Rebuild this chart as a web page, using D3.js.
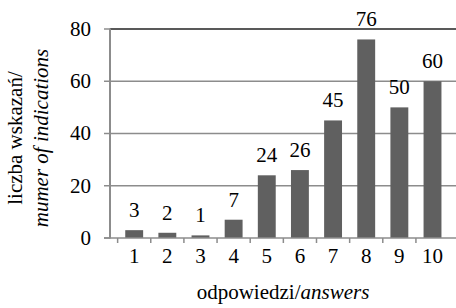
<!DOCTYPE html>
<html>
<head>
<meta charset="utf-8">
<script src="https://cdn.jsdelivr.net/npm/d3@7"></script>
<style>
  body { margin: 0; background: #fff; }
</style>
</head>
<body>
<svg id="chart" width="456" height="308" font-family="'Liberation Serif', 'DejaVu Serif', serif"></svg>
<script>
// answers 1..10 and how many times each was indicated
var answers = ["1", "2", "3", "4", "5", "6", "7", "8", "9", "10"];
var counts = [3, 2, 1, 7, 24, 26, 45, 76, 50, 60];
var yTicks = [0, 20, 40, 60, 80];

var svg = d3.select("#chart"),
    plotLeft = 110, plotRight = 456.7, plotTop = 29, plotBottom = 238,
    fs = 21;

var x = d3.scaleBand().domain(answers).range([plotLeft, plotRight]).padding(0.46),
    y = d3.scaleLinear().domain([0, 80]).range([plotBottom, plotTop]);

var step = x.step();

// gridlines (top one is darker)
svg.selectAll(".grid")
  .data(yTicks.filter(function(d) { return d > 0; }))
  .enter().append("line")
    .attr("x1", plotLeft).attr("x2", plotRight)
    .attr("y1", function(d) { return y(d); })
    .attr("y2", function(d) { return y(d); })
    .attr("stroke", function(d) { return d == 80 ? "#222" : "#8c8c8c"; })
    .attr("stroke-width", 1.5);

// bars
svg.selectAll(".bar")
  .data(counts)
  .enter().append("rect")
    .attr("x", function(d, i) { return x(answers[i]); })
    .attr("y", function(d) { return y(d); })
    .attr("width", x.bandwidth())
    .attr("height", function(d) { return plotBottom - y(d); })
    .attr("fill", "#606060");

// value labels
svg.selectAll(".val")
  .data(counts)
  .enter().append("text")
    .attr("x", function(d, i) { return x(answers[i]) + x.bandwidth() / 2; })
    .attr("y", function(d) { return y(d) - 13; })
    .attr("text-anchor", "middle")
    .attr("font-size", fs)
    .text(function(d) { return d; });

// y axis
svg.append("line")
  .attr("x1", plotLeft).attr("x2", plotLeft)
  .attr("y1", plotTop - 0.5).attr("y2", plotBottom + 0.5)
  .attr("stroke", "#8c8c8c").attr("stroke-width", 2);

svg.selectAll(".ytick")
  .data(yTicks)
  .enter().append("line")
    .attr("x1", plotLeft - 6).attr("x2", plotLeft)
    .attr("y1", function(d) { return y(d); })
    .attr("y2", function(d) { return y(d); })
    .attr("stroke", "#8c8c8c").attr("stroke-width", 1.5);

svg.selectAll(".ylab")
  .data(yTicks)
  .enter().append("text")
    .attr("x", 91)
    .attr("y", function(d) { return y(d); })
    .attr("dy", "0.33em")
    .attr("text-anchor", "end")
    .attr("font-size", fs)
    .text(function(d) { return d; });

// x axis
svg.append("line")
  .attr("x1", plotLeft - 6).attr("x2", plotRight)
  .attr("y1", plotBottom).attr("y2", plotBottom)
  .attr("stroke", "#8c8c8c").attr("stroke-width", 1.5);

svg.selectAll(".xtick")
  .data(answers)
  .enter().append("line")
    .attr("x1", function(d) { return x(d) - x.paddingInner() * step / 2; })
    .attr("x2", function(d) { return x(d) - x.paddingInner() * step / 2; })
    .attr("y1", plotBottom).attr("y2", plotBottom + 5)
    .attr("stroke", "#8c8c8c").attr("stroke-width", 1.5);

svg.selectAll(".xlab")
  .data(answers)
  .enter().append("text")
    .attr("x", function(d) { return x(d) + x.bandwidth() / 2; })
    .attr("y", 263)
    .attr("text-anchor", "middle")
    .attr("font-size", fs)
    .text(function(d) { return d; });

// axis titles
var xt = svg.append("text")
  .attr("x", 283).attr("y", 299)
  .attr("text-anchor", "middle")
  .attr("font-size", fs);
xt.append("tspan").text("odpowiedzi/");
xt.append("tspan").attr("font-style", "italic").text("answers");

var yt = svg.append("g").attr("transform", "translate(0,138) rotate(-90)");
yt.append("text")
  .attr("x", 0).attr("y", 22)
  .attr("text-anchor", "middle")
  .attr("font-size", fs)
  .text("liczba wskazań/");
yt.append("text")
  .attr("x", 0).attr("y", 48)
  .attr("text-anchor", "middle")
  .attr("font-size", fs)
  .attr("font-style", "italic")
  .text("mumer of indications");
</script>
</body>
</html>
